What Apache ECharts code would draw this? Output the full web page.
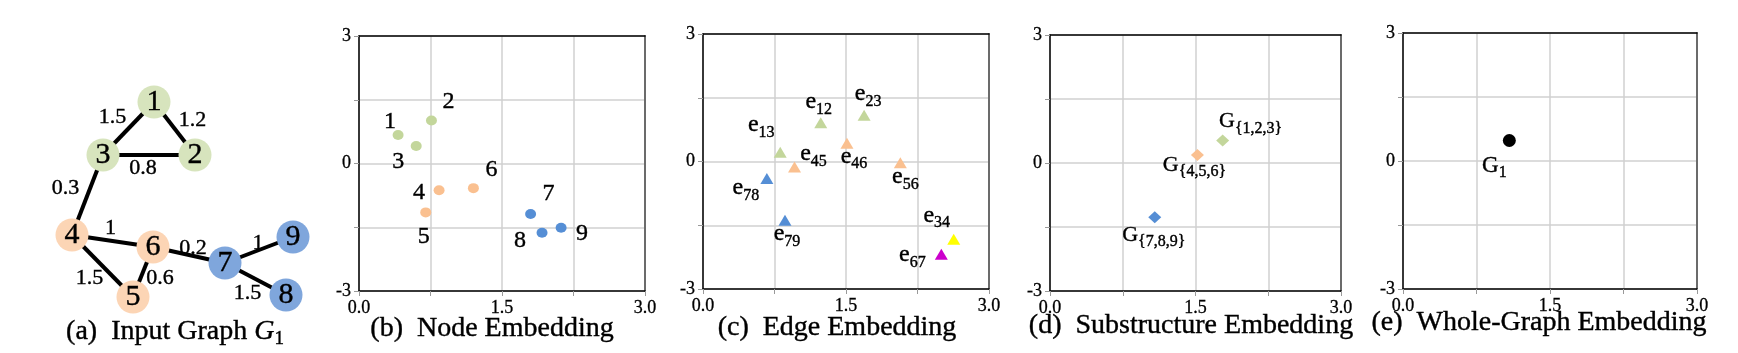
<!DOCTYPE html>
<html>
<head>
<meta charset="utf-8">
<script src="https://cdn.jsdelivr.net/npm/echarts@6/dist/echarts.min.js"></script>
<style>
  html, body { margin: 0; padding: 0; background: #fff; }
  #chart { width: 1738px; height: 353px; }
</style>
</head>
<body>
<div id="chart"></div>
<script>
// (a) input graph: node layout, groups, edges and weights
const graphNodes = ['1', '2', '3', '4', '5', '6', '7', '8', '9']
const graphNodeGroup = [0, 0, 0, 1, 1, 1, 2, 2, 2]
const graphNodeX = [114, 155, 63, 32, 93, 113, 185, 246, 253]
const graphNodeY = [17, 70, 70, 150, 212, 162, 178, 210, 152]
const graphEdges = [[1, 3], [1, 2], [3, 2], [3, 4], [4, 6], [4, 5], [6, 5], [6, 7], [7, 9], [7, 8]]
const graphEdgeWeights = ['1.5', '1.2', '0.8', '0.3', '1', '1.5', '0.6', '0.2', '1', '1.5']

// (b) node embedding
const nodeEmbX = [0.41, 0.76, 0.60, 0.84, 0.70, 1.20, 1.80, 1.92, 2.12]
const nodeEmbY = [0.67, 1.01, 0.41, -0.63, -1.15, -0.58, -1.19, -1.63, -1.51]

// (c) edge embedding
const edgeNames = ['12', '23', '13', '46', '45', '56', '78', '79', '34', '67']
const edgeGroup = [0, 0, 0, 1, 1, 1, 2, 2, 3, 4]
const edgeEmbX = [1.235, 1.69, 0.81, 1.51, 0.96, 2.07, 0.67, 0.86, 2.63, 2.50]
const edgeEmbY = [0.91, 1.09, 0.22, 0.43, -0.13, -0.03, -0.40, -1.38, -1.83, -2.18]

// (d) substructure embedding
const subNames = ['{1,2,3}', '{4,5,6}', '{7,8,9}']
const subGroup = [0, 1, 2]
const subEmbX = [1.78, 1.52, 1.08]
const subEmbY = [0.53, 0.19, -1.27]

// (e) whole-graph embedding
const wholeNames = ['1']
const wholeEmbX = [1.085]
const wholeEmbY = [0.48]

const xTickLabels = [0, 1.5, 3]
const yTickLabels = [-3, 0, 3]
const captions = [
  '{t|(a)  Input Graph }{g|G}{s|1}',
  '(b)  Node Embedding',
  '(c)  Edge Embedding',
  '(d)  Substructure Embedding',
  '(e)  Whole-Graph Embedding',
]

// ---- styles ----
const FONT = 'Liberation Serif'
const INK = { color: '#000', textBorderColor: '#000', textBorderWidth: 0.4 }
const POINT_COLORS = ['#c3d69b', '#fac090', '#558ed5', '#ffff00', '#cc00cc']
const NODE_COLORS = ['#d7e4bd', '#fcd5b5', '#7fa6dc']

const edgeWeightOffset = [[-16, -11], [18, -8], [-6, 13], [-22, -7], [-2, -13], [-13, 12], [17, 6], [4, -7], [-1, -7], [-8, 14]]
const nodeLabelOffset = [[-8, -13], [17, -19], [-18, 16], [-20, 2], [-2, 24], [18, -18], [18, -20], [-22, 8], [21, 6]]
const edgeLabelOffset = [[-2, -13], [4, -13], [-19, -19], [7, 21], [19, -5], [5, 22], [-21, 17], [2, 22], [-17, -16], [-29, 9]]
const subLabelOffset = [[28, -12], [-3, 17], [-1, 25]]
const wholeLabelOffset = [[-15, 32]]

const grids = [
  { left: 40, top: 85, width: 270, height: 225 },
  { left: 359, top: 36, width: 286, height: 255 },
  { left: 703, top: 34, width: 286, height: 255 },
  { left: 1050, top: 35, width: 291, height: 256 },
  { left: 1403, top: 33, width: 294, height: 256 },
]
const captionPos = [[175, 318], [492, 315], [837, 314], [1191, 312], [1539, 309]]

const xAxes = []
const yAxes = []
grids.forEach((g, i) => {
  if (i === 0) {
    xAxes.push({ gridIndex: 0, type: 'value', min: 0, max: 270, show: false })
    yAxes.push({ gridIndex: 0, type: 'value', min: 0, max: 225, inverse: true, show: false })
    return
  }
  const tick = { show: true, length: 5, lineStyle: { color: '#999', width: 1 } }
  const split = { show: true, lineStyle: { color: '#d0d0d0', width: 1.5 } }
  const tickText = Object.assign({ margin: 8, fontFamily: FONT, fontSize: 18 }, INK, { textBorderWidth: 0.3 })
  xAxes.push({
    gridIndex: i, type: 'value', position: 'bottom', min: 0, max: 3, interval: 0.75,
    axisLine: { show: true, onZero: false, lineStyle: { color: '#000', width: 1.5 } },
    axisTick: tick, splitLine: split,
    axisLabel: Object.assign({ formatter: (v) => (xTickLabels.includes(v) ? v.toFixed(1) : '') }, tickText),
  })
  xAxes.push({
    gridIndex: i, type: 'value', position: 'top', min: 0, max: 3,
    axisLine: { show: true, onZero: false, lineStyle: { color: '#000', width: 1.5 } },
    axisTick: { show: false }, axisLabel: { show: false }, splitLine: { show: false },
  })
  yAxes.push({
    gridIndex: i, type: 'value', position: 'left', min: -3, max: 3, interval: 1.5,
    axisLine: { show: true, onZero: false, lineStyle: { color: '#000', width: 1.5 } },
    axisTick: tick, splitLine: split,
    axisLabel: Object.assign({ formatter: (v) => (yTickLabels.includes(v) ? String(v) : '') }, tickText),
  })
  yAxes.push({
    gridIndex: i, type: 'value', position: 'right', min: -3, max: 3,
    axisLine: { show: true, onZero: false, lineStyle: { color: '#6b6b6b', width: 2 } },
    axisTick: { show: false }, axisLabel: { show: false }, splitLine: { show: false },
  })
})

const subRich = (mainSize, lineH) => Object.assign({
  fontFamily: FONT, fontSize: 16, lineHeight: lineH,
  rich: { m: Object.assign({ fontFamily: FONT, fontSize: mainSize, lineHeight: mainSize, verticalAlign: 'top' }, INK) },
}, INK)

const scatterSeries = (gi, xs, ys, colorOf, symbol, size, labelOf, offsets, labelStyle) => ({
  type: 'scatter', xAxisIndex: 2 * gi - 1, yAxisIndex: 2 * gi - 1,
  symbol, symbolSize: size, silent: true, animation: false,
  itemStyle: { opacity: 1 },
  data: xs.map((x, i) => ({
    value: [x, ys[i]],
    itemStyle: { color: colorOf(i), opacity: 1 },
    label: { offset: offsets[i] },
  })),
  label: Object.assign({ show: true, position: 'inside', formatter: (p) => labelOf(p.dataIndex) }, labelStyle),
})

const chart = echarts.init(document.getElementById('chart'))
chart.setOption({
  animation: false,
  grid: grids,
  xAxis: xAxes,
  yAxis: yAxes,
  title: captions.map((c, i) => ({
    text: c, left: captionPos[i][0], top: captionPos[i][1], textAlign: 'center', padding: 0,
    textStyle: i === 0
      ? {
          fontWeight: 'normal',
          rich: {
            t: Object.assign({ fontFamily: FONT, fontSize: 28, lineHeight: 28, verticalAlign: 'top' }, INK),
            g: Object.assign({ fontFamily: FONT, fontSize: 28, lineHeight: 28, verticalAlign: 'top', fontStyle: 'italic' }, INK),
            s: Object.assign({ fontFamily: FONT, fontSize: 19, lineHeight: 43 }, INK),
          },
        }
      : Object.assign({ fontFamily: FONT, fontSize: 28, fontWeight: 'normal' }, INK),
  })),
  series: [
    {
      type: 'graph', coordinateSystem: 'cartesian2d', xAxisIndex: 0, yAxisIndex: 0,
      symbol: 'circle', symbolSize: 33, silent: true,
      data: graphNodes.map((n, i) => ({
        name: n, value: [graphNodeX[i], graphNodeY[i]],
        itemStyle: { color: NODE_COLORS[graphNodeGroup[i]], opacity: 1 },
      })),
      links: graphEdges.map(([a, b]) => ({ source: String(a), target: String(b) })),
      lineStyle: { color: '#000', width: 4, opacity: 1 },
      label: Object.assign({ show: true, position: 'inside', formatter: '{b}', fontFamily: FONT, fontSize: 30 }, INK),
    },
    {
      type: 'scatter', xAxisIndex: 0, yAxisIndex: 0, symbolSize: 1, silent: true,
      itemStyle: { color: 'rgba(0,0,0,0)', opacity: 1 },
      data: graphEdges.map(([a, b], i) => ({
        value: [(graphNodeX[a - 1] + graphNodeX[b - 1]) / 2, (graphNodeY[a - 1] + graphNodeY[b - 1]) / 2],
        label: { offset: edgeWeightOffset[i] },
      })),
      label: Object.assign({
        show: true, position: 'inside', formatter: (p) => graphEdgeWeights[p.dataIndex],
        fontFamily: FONT, fontSize: 22,
      }, INK),
    },
    scatterSeries(1, nodeEmbX, nodeEmbY, (i) => POINT_COLORS[graphNodeGroup[i]], 'circle', [11, 10],
      (i) => graphNodes[i], nodeLabelOffset, Object.assign({ fontFamily: FONT, fontSize: 24 }, INK)),
    scatterSeries(2, edgeEmbX, edgeEmbY, (i) => POINT_COLORS[edgeGroup[i]], 'triangle', [13, 11],
      (i) => '{m|e}' + edgeNames[i], edgeLabelOffset, subRich(24, 40)),
    scatterSeries(3, subEmbX, subEmbY, (i) => POINT_COLORS[subGroup[i]], 'diamond', [13, 12],
      (i) => '{m|G}' + subNames[i], subLabelOffset, subRich(22, 36)),
    scatterSeries(4, wholeEmbX, wholeEmbY, () => '#000', 'circle', 13,
      (i) => '{m|G}' + wholeNames[i], wholeLabelOffset, subRich(23, 37)),
  ],
})
</script>
</body>
</html>
